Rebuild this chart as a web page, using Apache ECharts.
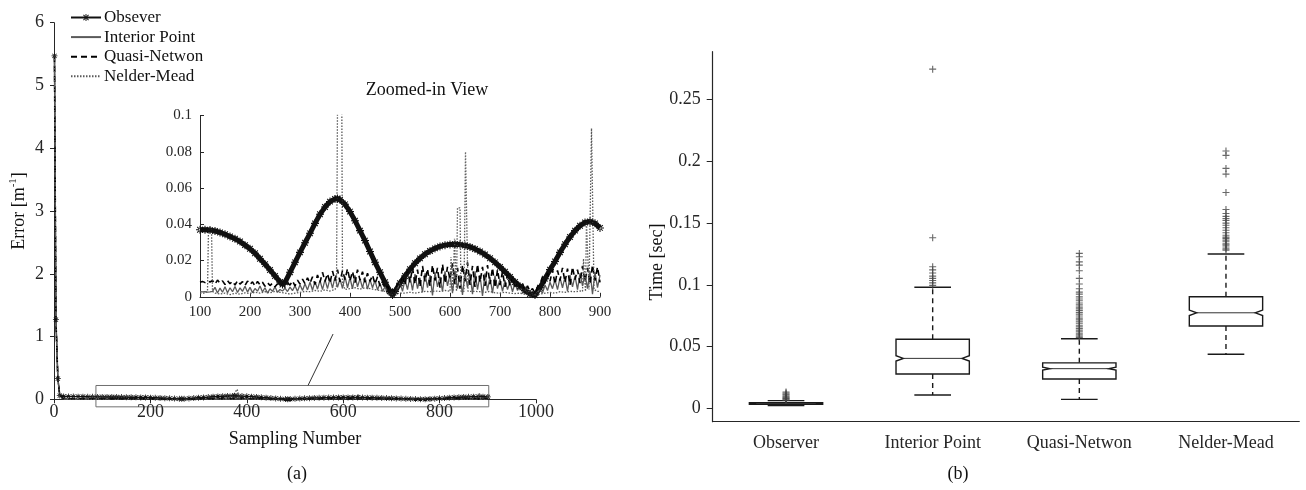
<!DOCTYPE html>
<html>
<head>
<meta charset="utf-8">
<script src="https://cdn.jsdelivr.net/npm/echarts@6/dist/echarts.min.js"></script>
<style>html,body{margin:0;padding:0;background:#fff}#c{width:1306px;height:490px}</style>
</head>
<body>
<div id="c"></div>
<script>
// ===================== (a) Error vs sampling number =====================
const obsX = [1,4,8,12,20,30,40,50,60,70,80,90,
  100,110,120,130,140,150,160,170,180,190,200,210,220,230,240,250,260,265,
  270,280,290,300,310,320,330,340,350,360,370,375,
  380,390,400,410,420,430,440,450,460,470,480,485,
  490,500,510,520,530,540,550,560,570,580,590,600,610,620,630,640,650,660,670,680,690,
  700,710,720,730,740,750,760,770,780,790,800,810,820,830,840,850,860,870,880,890,900];
const obsY = [5.47,1.27,0.33,0.06,0.045,0.044,0.043,0.042,0.041,0.04,0.039,0.038,
  0.037,0.037,0.0368,0.0363,0.0355,0.0345,0.0333,0.032,0.0305,0.0285,0.0265,0.024,0.021,0.018,0.0148,0.0115,0.0082,0.0068,
  0.008,0.0135,0.019,0.0245,0.0298,0.035,0.0405,0.0455,0.0495,0.0525,0.054,0.0542,
  0.0535,0.051,0.047,0.042,0.0365,0.031,0.025,0.019,0.0135,0.008,0.003,0.001,
  0.003,0.0075,0.0115,0.0152,0.0185,0.0212,0.0235,0.0253,0.0267,0.0278,0.0285,0.0289,0.029,0.0288,0.0283,0.0275,0.0264,0.025,0.0233,0.0213,0.019,
  0.0165,0.0138,0.011,0.0082,0.0058,0.0035,0.0015,0.001,0.005,0.01,0.015,0.0195,0.0245,0.029,0.033,0.0365,0.0392,0.041,0.0415,0.0405,0.038];

// Interior Point / Quasi-Netwon: first samples, then regular sampling every 5 from 100 to 900
const noisyHeadX = [1,4,8,12,20,30,40,50,60,70,80,90];
const noisyStart = 100, noisyStep = 5;
const ipHead = [5.47,1.27,0.33,0.06,0.004,0.003,0.0035,0.003,0.0028,0.003,0.0027,0.0029];
const ipY = [
  0.0028,0.0027,0.0028,0.0026,0.0027,0.0030,0.0052,0.0021,0.0048,0.0025,
  0.0055,0.0022,0.0050,0.0028,0.0057,0.0024,0.0049,0.0030,0.0058,0.0026,
  0.0052,0.0023,0.0046,0.0031,0.0060,0.0027,0.0050,0.0020,0.0044,0.0030,
  0.0055,0.0025,0.0040,0.0032,0.0048,0.0029,0.0053,0.0034,0.0061,0.0030,
  0.0066,0.0035,0.0072,0.0038,0.0080,0.0036,0.0085,0.0042,0.0090,0.0040,
  0.0095,0.0045,0.0102,0.0048,0.0110,0.0052,0.0098,0.0046,0.0112,0.0050,
  0.0105,0.0044,0.0118,0.0055,0.0100,0.0048,0.0108,0.0042,0.0095,0.0050,
  0.0090,0.0038,0.0075,0.0030,0.0055,0.0020,0.0012,0.0035,0.0018,0.0045,
  0.0080,0.0030,0.0095,0.0040,0.0112,0.0035,0.0125,0.0045,0.0105,0.0025,
  0.0130,0.0050,0.0120,0.0008,0.0135,0.0055,0.0110,0.0030,0.0140,0.0060,
  0.0125,0.0020,0.0145,0.0045,0.0118,0.0010,0.0135,0.0050,0.0128,0.0015,
  0.0140,0.0040,0.0120,0.0005,0.0130,0.0035,0.0110,0.0020,0.0115,0.0045,
  0.0098,0.0030,0.0090,0.0040,0.0082,0.0028,0.0075,0.0035,0.0060,0.0025,
  0.0048,0.0020,0.0035,0.0015,0.0010,0.0025,0.0040,0.0020,0.0065,0.0035,
  0.0080,0.0045,0.0095,0.0040,0.0105,0.0050,0.0110,0.0030,0.0120,0.0055,
  0.0115,0.0040,0.0130,0.0060,0.0125,0.0045,0.0140,0.0015,0.0135,0.0050,
  0.0120];
const qnHead = [5.47,1.27,0.33,0.06,0.009,0.0085,0.008,0.0088,0.0082,0.0086,0.008,0.0084];
const qnY = [
  0.0080,0.0085,0.0078,0.0088,0.0082,0.0090,0.0070,0.0092,0.0075,0.0088,
  0.0068,0.0090,0.0072,0.0086,0.0065,0.0089,0.0070,0.0084,0.0062,0.0087,
  0.0068,0.0082,0.0060,0.0085,0.0066,0.0080,0.0058,0.0078,0.0062,0.0075,
  0.0055,0.0072,0.0060,0.0070,0.0052,0.0075,0.0065,0.0088,0.0060,0.0092,
  0.0070,0.0098,0.0072,0.0105,0.0075,0.0110,0.0068,0.0120,0.0080,0.0135,
  0.0085,0.0128,0.0075,0.0142,0.0090,0.0150,0.0082,0.0145,0.0095,0.0155,
  0.0088,0.0140,0.0078,0.0150,0.0092,0.0138,0.0080,0.0130,0.0085,0.0120,
  0.0070,0.0110,0.0060,0.0085,0.0045,0.0060,0.0025,0.0040,0.0030,0.0075,
  0.0060,0.0120,0.0065,0.0145,0.0080,0.0160,0.0070,0.0150,0.0055,0.0170,
  0.0085,0.0155,0.0060,0.0175,0.0090,0.0160,0.0050,0.0180,0.0075,0.0165,
  0.0095,0.0185,0.0070,0.0160,0.0045,0.0175,0.0085,0.0190,0.0065,0.0170,
  0.0055,0.0180,0.0080,0.0165,0.0060,0.0175,0.0070,0.0160,0.0050,0.0150,
  0.0065,0.0140,0.0055,0.0125,0.0060,0.0110,0.0045,0.0090,0.0050,0.0075,
  0.0035,0.0060,0.0030,0.0045,0.0020,0.0055,0.0070,0.0110,0.0075,0.0130,
  0.0085,0.0150,0.0070,0.0145,0.0090,0.0160,0.0080,0.0155,0.0065,0.0165,
  0.0095,0.0150,0.0075,0.0170,0.0085,0.0160,0.0070,0.0175,0.0090,0.0165,
  0.0080];
const nmX = [1,4,8,12,20,40,60,80,
  100,110,115,117,123,125,
  130,140,150,160,170,180,190,200,210,220,230,240,250,260,270,280,290,300,310,320,330,340,350,360,370,
  373,375,380,383,385,
  390,400,410,420,430,440,450,460,470,480,490,500,510,520,530,540,550,560,570,580,590,600,
  602,604,606,609,611,613,615,620,622,628,631,634,636,
  640,650,660,670,680,690,700,710,720,730,740,750,760,770,780,790,800,810,820,830,840,850,860,
  865,867,869,871,873,876,878,882,883,886,888,895,900];
const nmY = [5.47,1.27,0.33,0.05,0.003,0.002,0.003,0.002,
  0.002,0.002,0.003,0.038,0.038,0.003,
  0.002,0.0015,0.002,0.0012,0.002,0.0015,0.0022,0.0018,0.0025,0.002,0.0028,0.0022,0.003,0.0025,0.002,0.0015,0.002,0.0025,0.003,0.0028,0.0035,0.003,0.0038,0.0032,0.004,
  0.006,0.105,0.16,0.15,0.008,
  0.004,0.0045,0.005,0.0042,0.005,0.0045,0.004,0.0035,0.003,0.001,0.0015,0.002,0.002,0.0025,0.002,0.0025,0.003,0.0028,0.0032,0.003,0.0035,0.003,
  0.022,0.022,0.003,0.032,0.032,0.003,0.049,0.049,0.003,0.003,0.080,0.080,0.003,
  0.0032,0.003,0.0028,0.0025,0.003,0.0022,0.002,0.0025,0.002,0.0018,0.002,0.0015,0.001,0.0008,0.0015,0.002,0.0025,0.002,0.0028,0.0025,0.003,0.0028,0.0032,
  0.003,0.021,0.021,0.003,0.041,0.041,0.004,0.004,0.093,0.093,0.004,0.003,0.003];

const seriesNames = ['Obsever','Interior Point','Quasi-Netwon','Nelder-Mead'];
// zoom annotation (data coordinates of main panel)
const zoomRegionX = [87, 902];
const zoomRegionY = [-0.12, 0.22];
const zoomConnector = [[527, 0.22], [579, 1.04]];

// ===================== (b) Computation time box plots =====================
const boxCategories = ['Observer','Interior Point','Quasi-Netwon','Nelder-Mead'];
const boxWhiskerLow  = [0.0025, 0.011, 0.0075, 0.0439];
const boxQ1          = [0.0035, 0.028, 0.024, 0.0667];
const boxNotchLow    = [0.0040, 0.0384, 0.0311, 0.0752];
const boxMedian      = [0.0042, 0.0406, 0.0323, 0.0774];
const boxNotchHigh   = [0.0044, 0.0428, 0.0335, 0.0796];
const boxQ3          = [0.0048, 0.056, 0.037, 0.0903];
const boxWhiskerHigh = [0.0065, 0.098, 0.0565, 0.1248];
const outObserver = [0.0068,0.0072,0.0078,0.0083,0.0088,0.0095,0.0102,0.011,0.0118,0.0127,0.0135];
const outInterior = [0.274,0.138,0.1145,0.112,0.1095,0.107,0.1052,0.1035,0.1015,0.0995];
const outQuasi = [0.1253,0.1226,0.1185,0.1159,0.1113,0.1052,0.1006,0.0968,0.0941,0.0925,0.0902,0.0885,0.0871,0.0853,
  0.0838,0.082,0.0806,0.0791,0.0775,0.0762,0.0748,0.0731,0.0717,0.0702,0.0689,0.0673,0.0661,0.0648,0.0634,0.0621,
  0.0609,0.0597,0.0586,0.0575];
const outNelder = [0.208,0.2044,0.1939,0.1893,0.1745,0.1608,0.1575,0.1552,0.1535,0.152,0.1498,0.148,0.146,0.144,
  0.142,0.140,0.1385,0.1374,0.136,0.1347,0.133,0.132,0.1305,0.129,0.128];
const timeTicks = [0, 0.05, 0.1, 0.15, 0.2, 0.25];

// ---------------------------------------------------------------
const FONT = 'Liberation Serif';
const AX = '#262626';
const pairs = (xs, ys) => xs.map((x, i) => [x, ys[i]]);
const regular = (head, ys) => pairs(noisyHeadX, head).concat(ys.map((v, i) => [noisyStart + noisyStep * i, v]));
const obsData = pairs(obsX, obsY);
const ipData = regular(ipHead, ipY);
const qnData = regular(qnHead, qnY);
const nmData = pairs(nmX, nmY);
const inInset = d => d.filter(p => p[0] >= 100 && p[0] <= 900);

const ASTERISK = 'path://M-1,-0.13L1,-0.13L1,0.13L-1,0.13Z M-0.13,-1L0.13,-1L0.13,1L-0.13,1Z M-0.8,-0.62L0.62,0.8L0.8,0.62L-0.62,-0.8Z M-0.8,0.62L-0.62,0.8L0.8,-0.62L0.62,-0.8Z';
const PLUS = 'path://M-1,-0.16L-0.16,-0.16L-0.16,-1L0.16,-1L0.16,-0.16L1,-0.16L1,0.16L0.16,0.16L0.16,1L-0.16,1L-0.16,0.16L-1,0.16Z';

const styles = [
  {lineStyle: {color: '#111', width: 1.4}, itemStyle: {color: '#111'}, symbol: ASTERISK},
  {lineStyle: {color: '#5a5a5a', width: 1.3}, itemStyle: {color: '#5a5a5a'}, symbol: 'none'},
  {lineStyle: {color: '#000', width: 1.6, type: [6, 4]}, itemStyle: {color: '#000'}, symbol: 'none'},
  {lineStyle: {color: '#5a5a5a', width: 1.3, type: [1.5, 1.5]}, itemStyle: {color: '#5a5a5a'}, symbol: 'none'}
];
const datas = [obsData, ipData, qnData, nmData];

const series = [];
datas.forEach((d, i) => {
  series.push(Object.assign({
    type: 'line', name: seriesNames[i], xAxisIndex: 0, yAxisIndex: 0, data: d,
    symbolSize: 6, showSymbol: i === 0, silent: true
  }, JSON.parse(JSON.stringify(styles[i]))));
});
datas.forEach((d, i) => {
  const s = Object.assign({
    type: 'line', name: seriesNames[i], xAxisIndex: 1, yAxisIndex: 1, data: inInset(d),
    symbolSize: 8, showSymbol: i === 0, silent: true
  }, JSON.parse(JSON.stringify(styles[i])));
  if (i === 0) s.lineStyle.width = 5;
  series.push(s);
});

const boxData = boxCategories.map((c, i) => [i, boxWhiskerLow[i], boxQ1[i], boxNotchLow[i], boxMedian[i], boxNotchHigh[i], boxQ3[i], boxWhiskerHigh[i]]);
series.push({
  type: 'custom', name: 'box', xAxisIndex: 2, yAxisIndex: 2, data: boxData, silent: true,
  encode: {x: 0, y: [1, 2, 3, 4, 5, 6, 7]},
  renderItem: function (params, api) {
    const idx = api.value(0);
    const P = k => api.coord([idx, api.value(k)]);
    const wl = P(1), q1 = P(2), nlo = P(3), med = P(4), nhi = P(5), q3 = P(6), wh = P(7);
    const band = api.size([1, 0])[0];
    const cx = med[0], half = band * 0.25, cap = band * 0.125, ind = half * 0.2;
    const stroke = '#1a1a1a';
    return {
      type: 'group',
      children: [
        {type: 'line', shape: {x1: cx, y1: q3[1], x2: cx, y2: wh[1]}, style: {stroke: stroke, lineWidth: 1.4, lineDash: [5, 4]}},
        {type: 'line', shape: {x1: cx, y1: q1[1], x2: cx, y2: wl[1]}, style: {stroke: stroke, lineWidth: 1.4, lineDash: [5, 4]}},
        {type: 'line', shape: {x1: cx - cap, y1: wh[1], x2: cx + cap, y2: wh[1]}, style: {stroke: stroke, lineWidth: 1.4}},
        {type: 'line', shape: {x1: cx - cap, y1: wl[1], x2: cx + cap, y2: wl[1]}, style: {stroke: stroke, lineWidth: 1.4}},
        {type: 'polygon', shape: {points: [
          [cx - half, q3[1]], [cx + half, q3[1]], [cx + half, nhi[1]], [cx + half - ind, med[1]], [cx + half, nlo[1]],
          [cx + half, q1[1]], [cx - half, q1[1]], [cx - half, nlo[1]], [cx - half + ind, med[1]], [cx - half, nhi[1]]
        ]}, style: {fill: '#fff', stroke: stroke, lineWidth: 1.4}},
        {type: 'line', shape: {x1: cx - half + ind, y1: med[1], x2: cx + half - ind, y2: med[1]}, style: {stroke: '#333', lineWidth: 1}}
      ]
    };
  }
});
const outliers = [outObserver, outInterior, outQuasi, outNelder];
series.push({
  type: 'scatter', name: 'outliers', xAxisIndex: 2, yAxisIndex: 2, silent: true,
  symbol: PLUS, symbolSize: 7, itemStyle: {color: '#444'},
  data: outliers.flatMap((arr, i) => arr.map(v => [i, v]))
});

const tickLabel = (size) => ({color: AX, fontFamily: FONT, fontSize: size});
const axisLine = {lineStyle: {color: AX, width: 1}};

const option = {
  animation: false,
  backgroundColor: '#fff',
  textStyle: {fontFamily: FONT},
  legend: {
    data: [
      {name: 'Obsever'},
      {name: 'Interior Point', itemStyle: {opacity: 0}},
      {name: 'Quasi-Netwon', itemStyle: {opacity: 0}},
      {name: 'Nelder-Mead', itemStyle: {opacity: 0}}
    ],
    orient: 'vertical', left: 70, top: 9, padding: 0,
    itemWidth: 30, itemHeight: 9, itemGap: 2.6,
    textStyle: {fontFamily: FONT, fontSize: 17, color: '#111', padding: [0, 0, 0, -2]},
    selectedMode: false
  },
  grid: [
    {left: 54, top: 22.7, width: 482, height: 376.6},
    {left: 200, top: 115.5, width: 400, height: 181.3},
    {left: 712.7, top: 51.7, width: 586.6, height: 370}
  ],
  xAxis: [
    {type: 'value', gridIndex: 0, min: 0, max: 1000, interval: 200, splitLine: {show: false},
      axisLine: axisLine, axisTick: {length: 4, lineStyle: {color: AX}},
      axisLabel: Object.assign(tickLabel(18), {margin: 4, formatter: v => String(v)}),
      name: 'Sampling Number', nameLocation: 'middle', nameGap: 31,
      nameTextStyle: {fontFamily: FONT, fontSize: 18, color: '#111'}},
    {type: 'value', gridIndex: 1, min: 100, max: 900, interval: 100, splitLine: {show: false},
      axisLine: axisLine, axisTick: {inside: true, length: 4, lineStyle: {color: AX}},
      axisLabel: Object.assign(tickLabel(15), {margin: 8, formatter: v => String(v)})},
    {type: 'category', gridIndex: 2, data: boxCategories, boundaryGap: true,
      axisLine: {onZero: false, lineStyle: {color: AX, width: 1.2}},
      axisTick: {alignWithLabel: true, length: 6, lineStyle: {color: AX}},
      axisLabel: Object.assign(tickLabel(18), {margin: 13})}
  ],
  yAxis: [
    {type: 'value', gridIndex: 0, min: 0, max: 6, interval: 1, splitLine: {show: false},
      axisLine: Object.assign({show: true}, axisLine), axisTick: {show: true, length: 4, lineStyle: {color: AX}},
      axisLabel: Object.assign(tickLabel(18), {margin: 10}),
      name: '{a|Error [m}{s|-1}{a|]}', nameLocation: 'middle', nameGap: 24,
      nameTextStyle: {rich: {
        a: {fontFamily: FONT, fontSize: 18, color: '#111', lineHeight: 22},
        s: {fontFamily: FONT, fontSize: 11, color: '#111', verticalAlign: 'top', lineHeight: 11}
      }}},
    {type: 'value', gridIndex: 1, min: 0, max: 0.1, interval: 0.02, splitLine: {show: false},
      axisLine: Object.assign({show: true}, axisLine), axisTick: {show: true, inside: true, length: 4, lineStyle: {color: AX}},
      axisLabel: Object.assign(tickLabel(15), {margin: 8})},
    {type: 'value', gridIndex: 2, min: -0.0105, max: 0.2881, splitLine: {show: false},
      axisLine: {show: true, lineStyle: {color: AX, width: 1.2}},
      axisTick: {show: true, length: 6, lineStyle: {color: AX}, customValues: timeTicks},
      axisLabel: Object.assign(tickLabel(18), {margin: 12, customValues: timeTicks})}
  ],
  series: series
};

const chart = echarts.init(document.getElementById('c'), null, {renderer: 'canvas'});
chart.setOption(option);

const a = chart.convertToPixel({gridIndex: 0}, [zoomRegionX[0], zoomRegionY[1]]);
const b = chart.convertToPixel({gridIndex: 0}, [zoomRegionX[1], zoomRegionY[0]]);
const c1 = chart.convertToPixel({gridIndex: 0}, zoomConnector[0]);
const c2 = chart.convertToPixel({gridIndex: 0}, zoomConnector[1]);
const txt = (text, x, y, size, rot) => ({
  type: 'text', x: x, y: y, rotation: rot || 0, silent: true,
  style: {text: text, fill: '#111', font: size + 'px "' + FONT + '"', textAlign: 'center', textVerticalAlign: 'middle'}
});
chart.setOption({
  graphic: [
    {type: 'rect', silent: true, shape: {x: a[0], y: a[1], width: b[0] - a[0], height: b[1] - a[1]},
      style: {fill: 'none', stroke: '#707070', lineWidth: 1}},
    {type: 'line', silent: true, shape: {x1: c1[0], y1: c1[1], x2: c2[0], y2: c2[1]},
      style: {stroke: '#333', lineWidth: 1}},
    txt('Zoomed-in View', 427, 90, 18),
    txt('Time [sec]', 657, 262, 18, Math.PI / 2),
    txt('(a)', 297, 474, 18),
    txt('(b)', 958, 474, 18)
  ]
});
</script>
</body>
</html>
